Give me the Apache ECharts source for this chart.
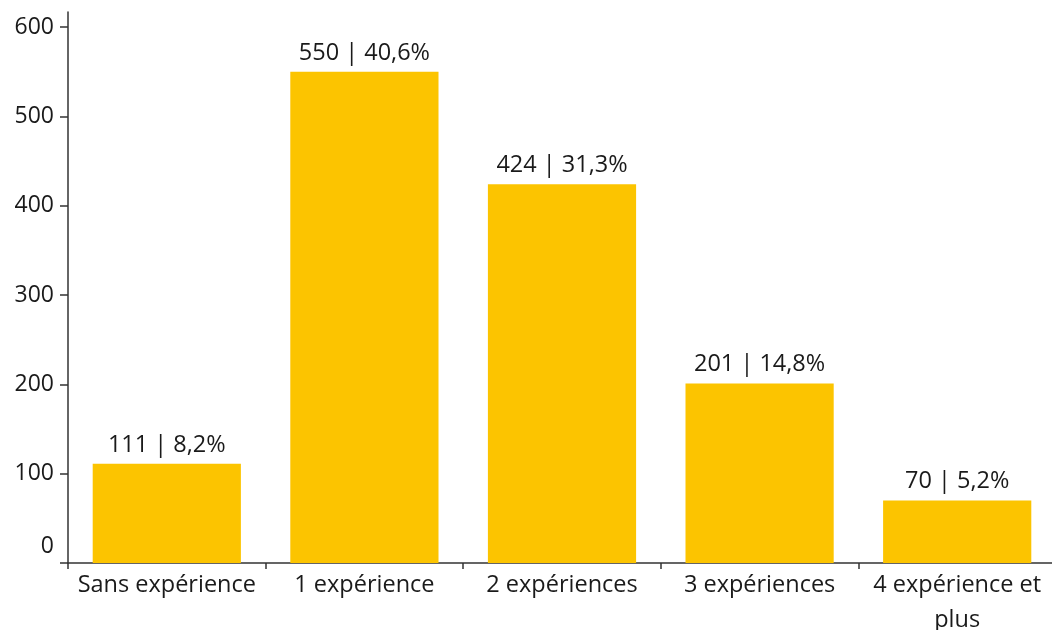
<!DOCTYPE html>
<html><head><meta charset="utf-8">
<script src="https://cdn.jsdelivr.net/npm/echarts@6/dist/echarts.min.js"></script>
<style>html,body{margin:0;padding:0;background:#fff}#c{width:1052px;height:630px}</style>
</head><body><div id="c"></div>
<script>
const categories = ['Sans expérience', '1 expérience', '2 expériences', '3 expériences', '4 expérience et\nplus'];
const counts = [111, 550, 424, 201, 70];
const percents = ['8,2%', '40,6%', '31,3%', '14,8%', '5,2%'];
const yTicks = [0, 100, 200, 300, 400, 500, 600];

const chart = echarts.init(document.getElementById('c'), null, {renderer: 'canvas'});
const font = '"Open Sans", Lato, sans-serif';
chart.setOption({
  animation: false,
  grid: {left: 68, top: 12, width: 988, height: 551, outerBoundsMode: 'none', containLabel: false},
  xAxis: {
    type: 'category', data: categories,
    axisLine: {lineStyle: {color: '#333', width: 1.5}},
    axisTick: {show: true, alignWithLabel: false, length: 6, lineStyle: {color: '#333', width: 1.5}},
    axisLabel: {color: '#1a1a1a', fontFamily: font, fontSize: 23.5, margin: 5, lineHeight: 35, interval: 0}
  },
  yAxis: {
    type: 'value', min: 0, max: 617,
    splitLine: {show: false},
    axisLine: {show: true, lineStyle: {color: '#333', width: 1.5}},
    axisTick: {show: true, length: 8, customValues: yTicks, lineStyle: {color: '#333', width: 1.5}},
    axisLabel: {
      customValues: yTicks, color: '#1a1a1a', fontFamily: font, fontSize: 23, margin: 14,
      formatter: v => v === 0 ? '{z|0}' : String(v),
      rich: {z: {fontFamily: font, fontSize: 23, color: '#1a1a1a', padding: [0, 0, 34, 0]}}
    }
  },
  series: [{
    type: 'bar', data: counts, barWidth: '75%',
    itemStyle: {color: '#FCC400'},
    label: {
      show: true, position: 'top', distance: 7, color: '#1a1a1a', fontFamily: font, fontSize: 23.5,
      formatter: p => counts[p.dataIndex] + ' | ' + percents[p.dataIndex]
    }
  }]
});
</script></body></html>
